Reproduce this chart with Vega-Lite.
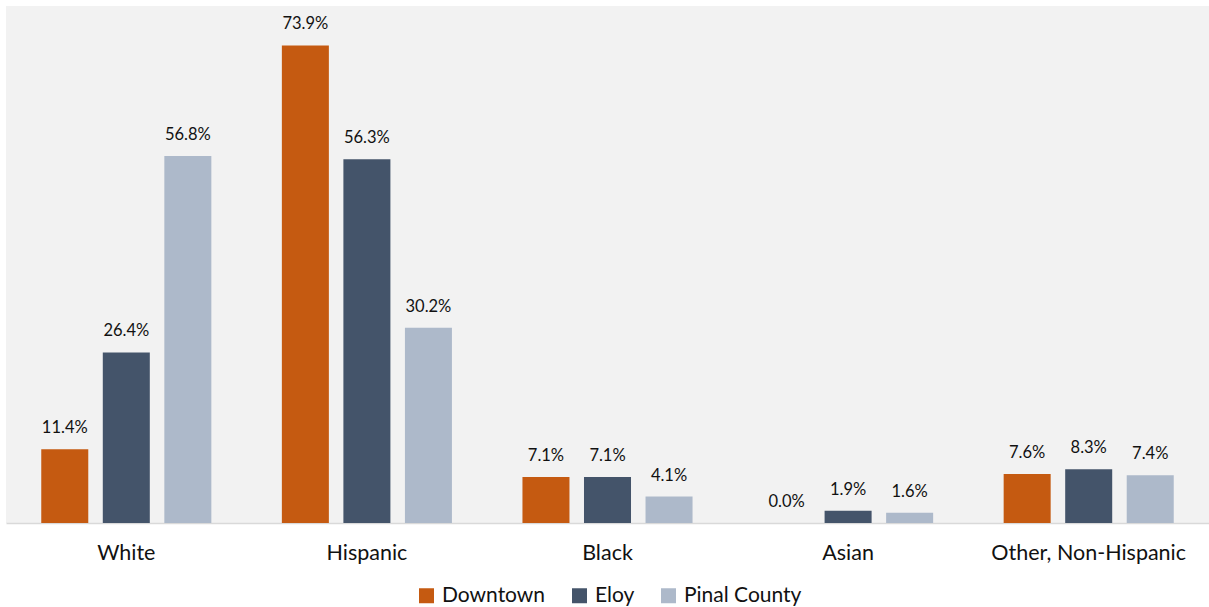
{
  "$schema": "https://vega.github.io/schema/vega-lite/v6.json",
  "width": 1203,
  "height": 517,
  "autosize": {"type": "none"},
  "padding": {"left": 6, "top": 6, "right": 0, "bottom": 84},
  "background": "white",
  "config": {
    "view": {"fill": "#f2f2f2", "stroke": null},
    "font": "Lato"
  },
  "data": {
    "values": [
      {"category": "White", "area": "Downtown", "value": 0.114},
      {"category": "White", "area": "Eloy", "value": 0.264},
      {"category": "White", "area": "Pinal County", "value": 0.568},
      {"category": "Hispanic", "area": "Downtown", "value": 0.739},
      {"category": "Hispanic", "area": "Eloy", "value": 0.563},
      {"category": "Hispanic", "area": "Pinal County", "value": 0.302},
      {"category": "Black", "area": "Downtown", "value": 0.071},
      {"category": "Black", "area": "Eloy", "value": 0.071},
      {"category": "Black", "area": "Pinal County", "value": 0.041},
      {"category": "Asian", "area": "Downtown", "value": 0.0},
      {"category": "Asian", "area": "Eloy", "value": 0.019},
      {"category": "Asian", "area": "Pinal County", "value": 0.016},
      {"category": "Other, Non-Hispanic", "area": "Downtown", "value": 0.076},
      {"category": "Other, Non-Hispanic", "area": "Eloy", "value": 0.083},
      {"category": "Other, Non-Hispanic", "area": "Pinal County", "value": 0.074}
    ]
  },
  "encoding": {
    "x": {
      "field": "category",
      "type": "nominal",
      "sort": ["White", "Hispanic", "Black", "Asian", "Other, Non-Hispanic"],
      "scale": {"paddingInner": 0, "paddingOuter": 0},
      "axis": {
        "title": null,
        "labelAngle": 0,
        "labelFontSize": 21.5,
        "labelColor": "#111111",
        "labelPadding": 19,
        "labelLimit": 0,
        "ticks": false,
        "domainColor": "#d9d9d9",
        "domainWidth": 1.5
      }
    },
    "xOffset": {
      "field": "area",
      "type": "nominal",
      "sort": ["Downtown", "Eloy", "Pinal County"],
      "scale": {"paddingInner": 0.236, "paddingOuter": 0.573}
    },
    "y": {
      "field": "value",
      "type": "quantitative",
      "scale": {"domain": [0, 0.8], "nice": false},
      "axis": null
    }
  },
  "layer": [
    {
      "mark": {"type": "bar"},
      "encoding": {
        "color": {
          "field": "area",
          "type": "nominal",
          "sort": ["Downtown", "Eloy", "Pinal County"],
          "scale": {
            "domain": ["Downtown", "Eloy", "Pinal County"],
            "range": ["#c55a11", "#44546a", "#adb9ca"]
          },
          "legend": {
            "title": null,
            "orient": "none",
            "legendX": 410,
            "legendY": 579,
            "direction": "horizontal",
            "symbolType": "square",
            "symbolSize": 225,
            "symbolStrokeWidth": 0,
            "labelFontSize": 21,
            "labelColor": "#111111",
            "labelOffset": 5,
            "columnPadding": 23
          }
        }
      }
    },
    {
      "mark": {"type": "text", "dy": -21, "fontSize": 16.5, "color": "#111111"},
      "encoding": {
        "text": {"field": "value", "type": "quantitative", "format": ".1%"}
      }
    }
  ]
}
